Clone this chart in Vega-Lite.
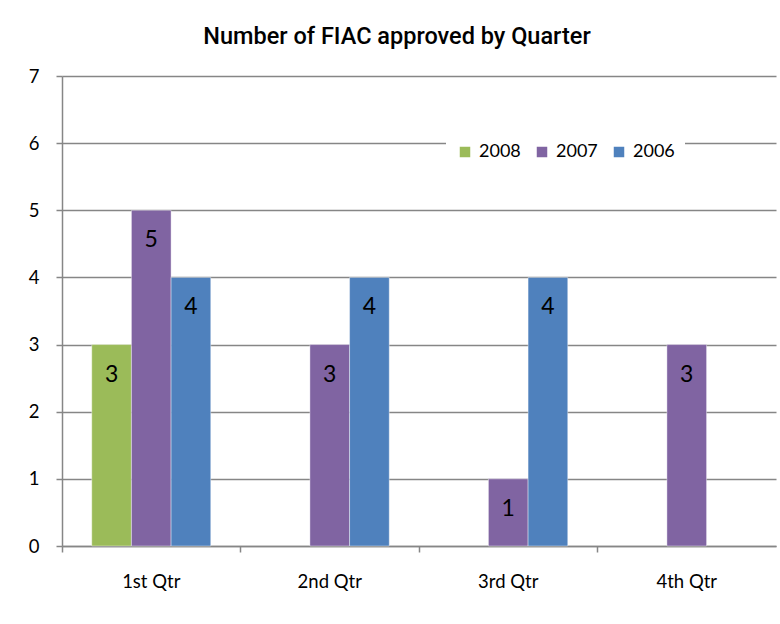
{
  "$schema": "https://vega.github.io/schema/vega-lite/v6.json",
  "autosize": "none",
  "width": 714,
  "height": 470,
  "padding": {"left": 62, "top": 76, "right": 4, "bottom": 78},
  "background": "white",
  "title": {
    "text": "Number of FIAC approved by Quarter",
    "font": "Roboto",
    "fontSize": 23.5,
    "fontWeight": 500,
    "color": "#000000",
    "anchor": "middle",
    "dx": -22,
    "offset": 19
  },
  "config": {
    "view": {"stroke": null},
    "font": "Lato"
  },
  "data": {
    "values": [
      {"quarter": "1st Qtr", "year": "2008", "count": 3},
      {"quarter": "1st Qtr", "year": "2007", "count": 5},
      {"quarter": "1st Qtr", "year": "2006", "count": 4},
      {"quarter": "2nd Qtr", "year": "2007", "count": 3},
      {"quarter": "2nd Qtr", "year": "2006", "count": 4},
      {"quarter": "3rd Qtr", "year": "2007", "count": 1},
      {"quarter": "3rd Qtr", "year": "2006", "count": 4},
      {"quarter": "4th Qtr", "year": "2007", "count": 3}
    ]
  },
  "encoding": {
    "x": {
      "field": "quarter",
      "type": "nominal",
      "sort": ["1st Qtr", "2nd Qtr", "3rd Qtr", "4th Qtr"],
      "scale": {"domain": ["1st Qtr", "2nd Qtr", "3rd Qtr", "4th Qtr"], "paddingInner": 0, "paddingOuter": 0},
      "axis": {
        "title": null,
        "labelAngle": 0,
        "labelFont": "Lato",
        "labelFontSize": 18.5,
        "labelColor": "#000000",
        "labelPadding": 20,
        "tickSize": 6,
        "tickColor": "#868686",
        "domainColor": "#868686",
        "domainWidth": 1.5,
        "tickWidth": 1.5,
        "bandPosition": 0,
        "grid": false
      }
    },
    "xOffset": {
      "field": "year",
      "type": "nominal",
      "sort": ["2008", "2007", "2006"],
      "scale": {"domain": ["2008", "2007", "2006"], "paddingOuter": 0.75, "paddingInner": 0}
    },
    "y": {
      "field": "count",
      "type": "quantitative",
      "scale": {"domain": [0, 7], "nice": false},
      "axis": {
        "title": null,
        "values": [0, 1, 2, 3, 4, 5, 6, 7],
        "labelFont": "Lato",
        "labelFontSize": 18.5,
        "labelColor": "#000000",
        "labelPadding": 17,
        "tickSize": 6,
        "tickColor": "#868686",
        "domainColor": "#868686",
        "domainWidth": 1.5,
        "tickWidth": 1.5,
        "grid": true,
        "gridColor": "#868686",
        "gridWidth": 1.5
      }
    }
  },
  "layer": [
    {
      "mark": {"type": "bar", "stroke": "#ffffff", "strokeOpacity": 0.4, "strokeWidth": 1},
      "encoding": {
        "color": {
          "field": "year",
          "type": "nominal",
          "scale": {"domain": ["2008", "2007", "2006"], "range": ["#9BBB59", "#8064A2", "#4F81BD"]},
          "legend": {
            "title": null,
            "orient": "none",
            "legendX": 384,
            "legendY": 57,
            "direction": "horizontal",
            "symbolType": "square",
            "symbolSize": 110,
            "symbolStrokeWidth": 0,
            "labelFont": "Lato",
            "labelFontSize": 18,
            "labelColor": "#000000",
            "labelOffset": 5,
            "columnPadding": 12,
            "fillColor": "white",
            "padding": 10
          }
        }
      }
    },
    {
      "mark": {"type": "text", "dy": 30, "baseline": "middle", "font": "Lato", "fontSize": 23, "color": "#000000"},
      "encoding": {
        "text": {"field": "count", "type": "quantitative"}
      }
    }
  ]
}
